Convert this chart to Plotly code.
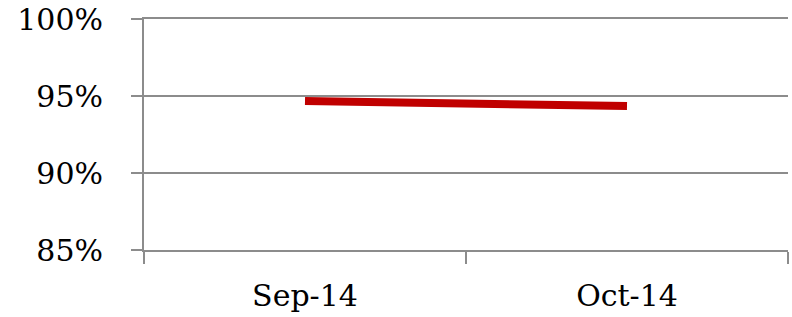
import plotly.graph_objects as go

categories = ["Sep-14", "Oct-14"]
values = [94.68, 94.35]
y_ticks = [85, 90, 95, 100]

grid = "#8c8c8c"
fig = go.Figure(go.Scatter(
    x=categories, y=values, mode="lines",
    line=dict(color="#C00000", width=8),
))
fig.update_layout(
    width=792, height=317,
    margin=dict(l=144, r=4, t=19, b=67),
    plot_bgcolor="white", paper_bgcolor="white",
    showlegend=False,
    font=dict(family="DejaVu Serif, serif", size=30, color="black"),
)
fig.update_xaxes(
    type="category", range=[-0.5, 1.5], tickson="boundaries",
    ticks="outside", ticklen=12, tickwidth=2, tickcolor=grid,
    showgrid=False, showline=True, mirror=True, linecolor=grid, linewidth=2,
    zeroline=False, ticklabelstandoff=18, automargin=False,
    ticklabeloverflow="allow",
)
fig.update_yaxes(
    range=[85, 100], tickvals=y_ticks, ticktext=[f"{v}%" for v in y_ticks],
    ticks="outside", ticklen=11, tickwidth=2, tickcolor=grid,
    showgrid=True, gridcolor=grid, gridwidth=2,
    showline=True, linecolor=grid, linewidth=2, zeroline=False,
    ticklabelstandoff=22, automargin=False,
    ticklabeloverflow="allow",
)
fig.write_html("out.html", config={"displayModeBar": False},
               post_script="document.body.style.margin='0';")
